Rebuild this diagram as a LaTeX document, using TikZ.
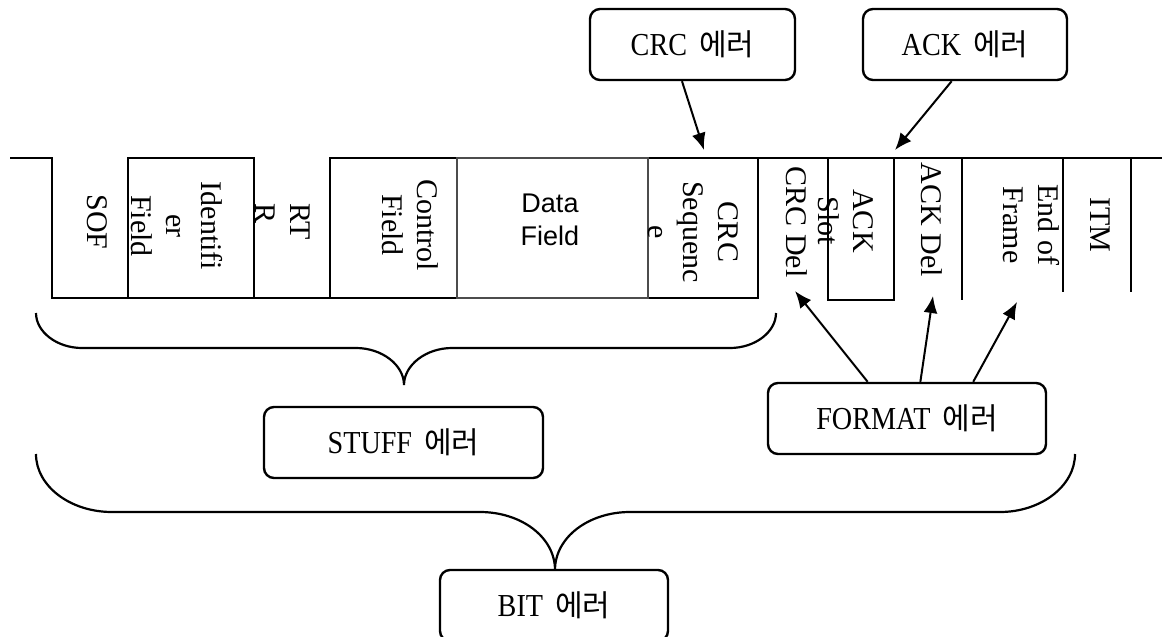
\documentclass[tikz,border=0pt]{standalone}
\usepackage{fontspec}
\setmainfont{Liberation Serif}
\setsansfont{Liberation Sans}
\newfontfamily\korfont{Noto Sans CJK KR}
\newfontfamily\boxfont[FakeStretch=0.88]{Liberation Serif}
\usetikzlibrary{arrows.meta}

\newcommand{\errtext}[1]{{\boxfont #1}\hspace{12pt}{\korfont\fontsize{30}{36}\selectfont 에러}}

\begin{document}
\begin{tikzpicture}
  [x=1pt, y=-1pt,
   wave/.style={line width=2.6pt},
   databox/.style={draw=black!70, line width=1.8pt},
   fieldtext/.style={rotate=-90, inner sep=0pt,
                     font=\fontsize{30}{35}\selectfont},
   datatext/.style={inner sep=0pt, align=center,
                    font=\sffamily\fontsize{27}{33}\selectfont},
   errbox/.style={draw, rounded corners=10pt, line width=2.4pt,
                  minimum height=71pt, font=\fontsize{32}{36}\selectfont},
   post/.style={-{Latex[length=17pt,width=14pt]}, line width=2pt},
   bracket/.style={line width=2.2pt}]

  \useasboundingbox (0,0) rectangle (1162,637);

  % Bit stream
  \draw [wave] (10,158) -- (52,158) -- (52,298) -- (758,298) -- (758,158);
  \draw [wave] (648,158) -- (1162,158);
  \draw [wave] (128,298) -- (128,158) -- (254,158) -- (254,298);
  \draw [wave] (330,298) -- (330,158) -- (457,158);
  \draw [databox] (457,158) rectangle (648,298);
  \draw [wave] (828,158) -- (828,300) -- (894,300) -- (894,158);
  \draw [wave] (962,158) -- (962,300);
  \draw [wave] (1063,158) -- (1063,292);
  \draw [wave] (1131,158) -- (1131,292);

  % Fields
  \node (sof) at (97,222) [fieldtext] {SOF};
  \node (ident) at (177,226) [fieldtext, align=center] {Identifi\\er\\Field};
  \node (rtr) at (283,222) [fieldtext, align=left] {RT\\R};
  \node (ctrl) at (410,225) [fieldtext, align=center] {Control\\Field};
  \node (data) at (550,220) [datatext] {Data\\Field};
  \node (crcseq) at (693,232) [fieldtext, align=center] {CRC\\Sequenc\\e};
  \node (crcdel) at (797,222) [fieldtext] {CRC Del};
  \node (ackslot) at (846,221) [fieldtext, align=center] {ACK\\Slot};
  \node (ackdel) at (932,220) [fieldtext] {ACK Del};
  \node (eof) at (1031,225) [fieldtext, align=center] {End of\\Frame};
  \node (itm) at (1100,225) [fieldtext] {ITM};

  % Arrow targets
  \coordinate (crctip) at (704,150);
  \coordinate (acktip) at (895,150);
  \coordinate (crcdeltip) at (795,291);
  \coordinate (ackdeltip) at (933,296);
  \coordinate (eoftip) at (1017,302);

  % Errors
  \node (crcerr) at (692.5,44.5) [errbox, minimum width=205pt] {\errtext{CRC}};
  \draw [post] (crcerr.254) -- (crctip);
  \node (ackerr) at (965,44.5) [errbox, minimum width=204pt] {\errtext{ACK}};
  \draw [post] (ackerr.250) -- (acktip);

  \node (formaterr) at (907,418.5) [errbox, minimum width=278pt] {\errtext{FORMAT}};
  \draw [post] (formaterr.137) -- (crcdeltip);
  \draw [post] (formaterr.70) -- (ackdeltip);
  \draw [post] (formaterr.29) -- (eoftip);

  \node (stufferr) at (403.5,442.5) [errbox, minimum width=279pt] {\errtext{STUFF}};
  \node (biterr) at (554,605.5) [errbox, minimum width=228pt] {\errtext{BIT}};

  % Braces
  \draw [bracket] (36,313) .. controls (36,332) and (57,348) .. (82,348)
    -- (356,348) .. controls (382,348) and (404,365) .. (404,385)
    .. controls (404,365) and (426,348) .. (452,348)
    -- (730,348) .. controls (755,348) and (776,332) .. (776,313);
  \draw [bracket] (36,454) .. controls (36,486) and (70,512) .. (112,512)
    -- (480,512) .. controls (521,512) and (555,537) .. (555,570)
    .. controls (555,537) and (589,512) .. (630,512)
    -- (1000,512) .. controls (1041,512) and (1075,486) .. (1075,454);

\end{tikzpicture}
\end{document}
